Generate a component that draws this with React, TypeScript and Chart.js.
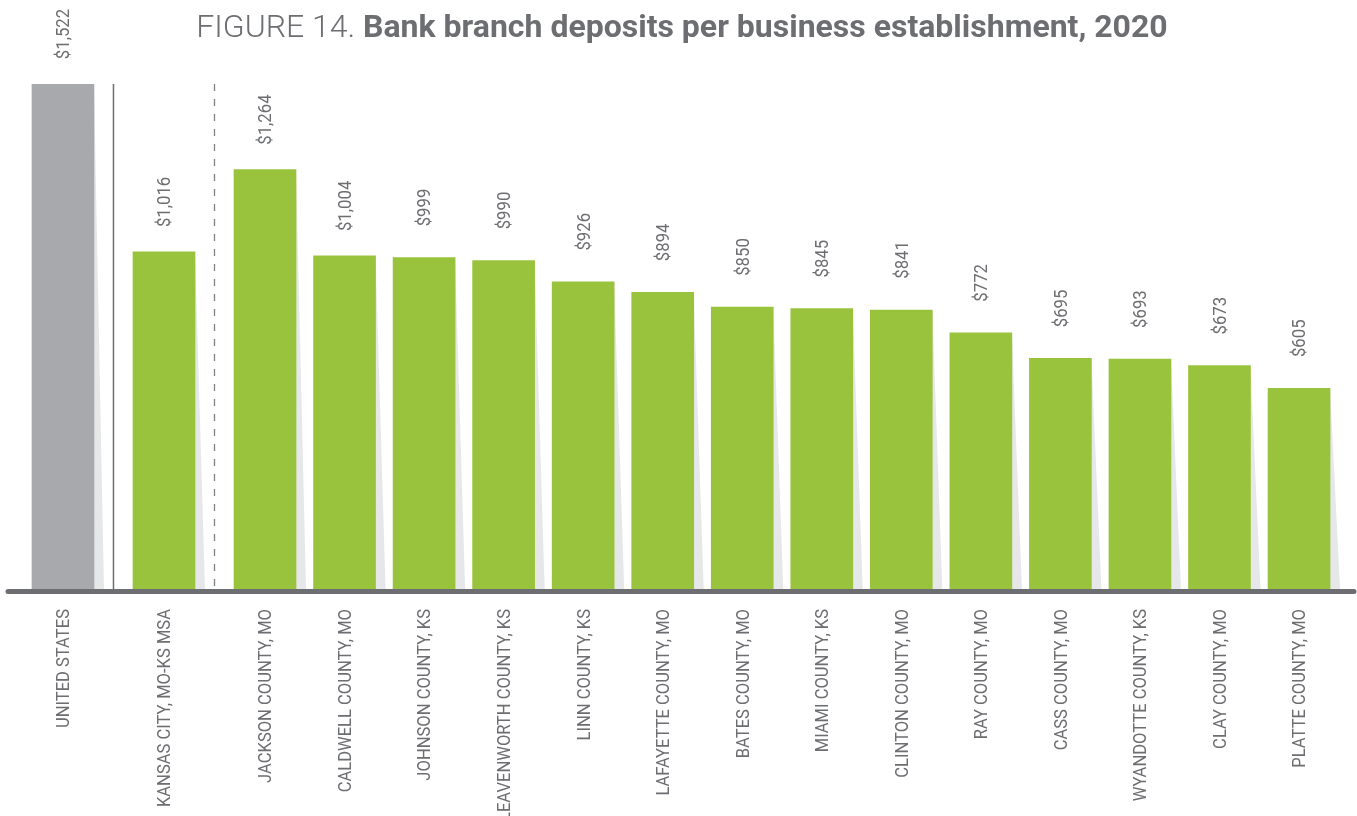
import React, { useEffect, useRef } from "react";
import { Chart, registerables } from "chart.js";

Chart.register(...registerables);

const categories = [
  "UNITED STATES",
  "KANSAS CITY, MO-KS MSA",
  "JACKSON COUNTY, MO",
  "CALDWELL COUNTY, MO",
  "JOHNSON COUNTY, KS",
  "LEAVENWORTH COUNTY, KS",
  "LINN COUNTY, KS",
  "LAFAYETTE COUNTY, MO",
  "BATES COUNTY, MO",
  "MIAMI COUNTY, KS",
  "CLINTON COUNTY, MO",
  "RAY COUNTY, MO",
  "CASS COUNTY, MO",
  "WYANDOTTE COUNTY, KS",
  "CLAY COUNTY, MO",
  "PLATTE COUNTY, MO",
];

const values = [1522, 1016, 1264, 1004, 999, 990, 926, 894, 850, 845, 841, 772, 695, 693, 673, 605];

const valueLabels = [
  "$1,522", "$1,016", "$1,264", "$1,004", "$999", "$990", "$926", "$894",
  "$850", "$845", "$841", "$772", "$695", "$693", "$673", "$605",
];

// 0 = nation, 1 = metro area, 2 = counties
const groups = [0, 1, 2, 2, 2, 2, 2, 2, 2, 2, 2, 2, 2, 2, 2, 2];

const TITLE_LIGHT = "FIGURE 14. ";
const TITLE_BOLD = "Bank branch deposits per business establishment, 2020";

const GROUP_GAP = 0.27;
const TEXT = "#6d6e71";
const GREEN = "#99c33c";
const GRAY = "#a7a9ac";
const SHADOW = "#e6e7e8";

const xPos = values.map((_, i) => i + groups[i] * GROUP_GAP);

const decorPlugin = {
  id: "decor",
  beforeDatasetsDraw(chart: any) {
    const ctx = chart.ctx;
    const meta = chart.getDatasetMeta(0);
    ctx.save();
    ctx.fillStyle = SHADOW;
    meta.data.forEach((el: any) => {
      const right = el.x + el.width / 2;
      ctx.beginPath();
      ctx.moveTo(right, el.y);
      ctx.lineTo(right + 10, el.base);
      ctx.lineTo(right, el.base);
      ctx.closePath();
      ctx.fill();
    });
    ctx.restore();
  },
  afterDraw(chart: any) {
    const ctx = chart.ctx;
    const meta = chart.getDatasetMeta(0);
    const xs = chart.scales.x;
    const ys = chart.scales.y;
    const area = chart.chartArea;
    const top = ys.getPixelForValue(values[0]);

    ctx.save();
    // separators between groups
    const sep1 = xs.getPixelForValue((xPos[0] + xPos[1]) / 2);
    const sep2 = xs.getPixelForValue((xPos[1] + xPos[2]) / 2);
    ctx.strokeStyle = TEXT;
    ctx.lineWidth = 1.5;
    ctx.beginPath();
    ctx.moveTo(sep1, top);
    ctx.lineTo(sep1, area.bottom);
    ctx.stroke();
    ctx.strokeStyle = "#808285";
    ctx.lineWidth = 1.3;
    ctx.setLineDash([7, 8]);
    ctx.beginPath();
    ctx.moveTo(sep2, top);
    ctx.lineTo(sep2, area.bottom);
    ctx.stroke();
    ctx.setLineDash([]);

    // baseline
    ctx.strokeStyle = TEXT;
    ctx.lineWidth = 5;
    ctx.lineCap = "round";
    ctx.beginPath();
    ctx.moveTo(8, area.bottom + 2.5);
    ctx.lineTo(1354, area.bottom + 2.5);
    ctx.stroke();

    // value labels
    ctx.fillStyle = TEXT;
    ctx.font = "18px Roboto";
    ctx.textBaseline = "alphabetic";
    ctx.textAlign = "center";
    const capV = 18 * 0.711;
    meta.data.forEach((el: any, i: number) => {
      ctx.save();
      ctx.translate(el.x, el.y - 50);
      ctx.rotate(-Math.PI / 2);
      ctx.scale(0.93, 1);
      ctx.fillText(valueLabels[i], 0, capV / 2);
      ctx.restore();
    });

    // category labels
    ctx.font = "18px Roboto";
    ctx.textAlign = "right";
    const capL = 18 * 0.711;
    categories.forEach((c, i) => {
      const px = xs.getPixelForValue(xPos[i]);
      ctx.save();
      ctx.translate(px, area.bottom + 20);
      ctx.rotate(-Math.PI / 2);
      ctx.scale(0.92, 1);
      ctx.fillText(c, 0, capL / 2);
      ctx.restore();
    });

    // title
    ctx.textAlign = "left";
    ctx.font = "300 32px Roboto";
    const w1 = ctx.measureText(TITLE_LIGHT).width;
    ctx.font = "bold 32px Roboto";
    const w2 = ctx.measureText(TITLE_BOLD).width;
    const startX = 682 - (w1 + w2) / 2;
    ctx.font = "300 32px Roboto";
    ctx.fillText(TITLE_LIGHT, startX, 37);
    ctx.font = "bold 32px Roboto";
    ctx.fillText(TITLE_BOLD, startX + w1, 37);
    ctx.restore();
  },
};

export default function App() {
  const ref = useRef<HTMLCanvasElement | null>(null);
  useEffect(() => {
    if (!ref.current) return;
    const chart = new Chart(ref.current, {
      type: "bar",
      data: {
        datasets: [
          {
            data: values.map((v, i) => ({ x: xPos[i], y: v })),
            backgroundColor: values.map((_, i) => (groups[i] === 0 ? GRAY : GREEN)),
            barThickness: 62,
            borderWidth: 0,
          },
        ],
      },
      options: {
        animation: false,
        responsive: true,
        maintainAspectRatio: false,
        layout: { padding: { left: 23.2, right: 18.2, top: 84, bottom: 227 } },
        plugins: { legend: { display: false }, tooltip: { enabled: false }, title: { display: false } },
        scales: {
          x: {
            type: "linear",
            offset: false,
            min: -0.5,
            max: xPos[xPos.length - 1] + 0.5,
            display: false,
          },
          y: { min: 0, max: values[0], display: false },
        },
      },
      plugins: [decorPlugin],
    } as any);
    return () => chart.destroy();
  }, []);
  return (
    <div style={{ position: "fixed", left: 0, top: 0, width: 1357, height: 816, background: "#fff" }}>
      <canvas ref={ref} />
    </div>
  );
}
